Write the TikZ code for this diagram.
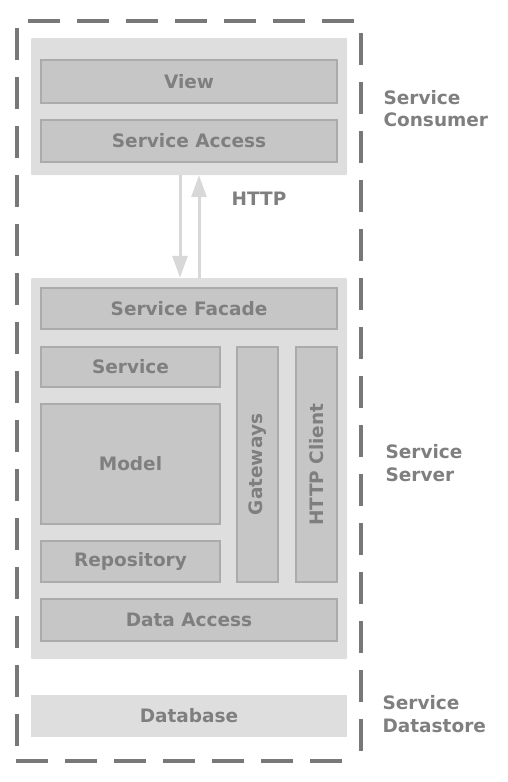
\documentclass[tikz,border=0pt]{standalone}
\usepackage{fontspec}
\setmainfont{DejaVu Sans}
\usetikzlibrary{arrows.meta}
\definecolor{txt}{HTML}{7F7F7F}
\definecolor{outerfill}{HTML}{DEDEDE}
\definecolor{innerfill}{HTML}{C6C6C6}
\definecolor{innerline}{HTML}{ABABAB}
\definecolor{dashc}{HTML}{787878}
\definecolor{arrowc}{HTML}{D8D8D8}
\tikzset{
  lbl/.style={font=\fontsize{18.5}{22}\selectfont\bfseries, text=txt},
  outerbox/.style={fill=outerfill, draw=none, rounded corners=1pt, inner sep=0pt},
  innerbox/.style={fill=innerfill, draw=innerline, line width=2pt, inner sep=0pt, lbl},
  dbbox/.style={fill=outerfill, draw=none, inner sep=0pt, lbl},
  border/.style={draw=dashc, line width=4pt, dash pattern=on 32pt off 17pt},
  conn/.style={draw=arrowc, line width=3pt, -{Triangle[width=15pt,length=22pt]}},
  sidelbl/.style={lbl, align=left, anchor=west, font=\fontsize{18.5}{22.5}\selectfont\bfseries}
}
\begin{document}
\begin{tikzpicture}[x=1pt,y=-1pt]
\useasboundingbox (0,0) rectangle (508,782);
% dashed boundary
\coordinate (t1) at (28,21); \coordinate (t2) at (361,21);
\coordinate (r1) at (361,33); \coordinate (r2) at (361,760);
\coordinate (b1) at (16,761); \coordinate (b2) at (350,761);
\coordinate (l1) at (17,28); \coordinate (l2) at (17,760);
\draw[border] (t1) -- (t2);
\draw[border] (r1) -- (r2);
\draw[border] (b1) -- (b2);
\draw[border] (l1) -- (l2);
% consumer
\node[outerbox, minimum width=316pt, minimum height=137pt] (consumer) at (189,106.5) {};
\node[innerbox, minimum width=296pt, minimum height=43pt] (view) at (189,81.5) {View};
\node[innerbox, minimum width=296pt, minimum height=42pt] (access) at (189,141) {Service Access};
% server
\node[outerbox, minimum width=316pt, minimum height=381pt] (server) at (189,468.5) {};
\node[innerbox, minimum width=296pt, minimum height=41pt] (facade) at (189,308.5) {Service Facade};
\node[innerbox, minimum width=179pt, minimum height=40pt] (service) at (130.5,367) {Service};
\node[innerbox, minimum width=179pt, minimum height=120pt] (model) at (130.5,464) {Model};
\node[innerbox, minimum width=179pt, minimum height=41pt] (repo) at (130.5,561.5) {Repository};
\node[innerbox, minimum width=41pt, minimum height=235pt] (gw) at (257.5,464.5) {};
\node[lbl, rotate=90] (gwt) at (gw.center) {Gateways};
\node[innerbox, minimum width=41pt, minimum height=235pt] (hc) at (316.5,464.5) {};
\node[lbl, rotate=90] (hct) at (hc.center) {HTTP Client};
\node[innerbox, minimum width=296pt, minimum height=42pt] (data) at (189,620) {Data Access};
% database
\node[dbbox, minimum width=316pt, minimum height=42pt] (db) at (189,716) {Database};
% arrows
\draw[conn] ([xshift=-9pt]consumer.south) -- ([xshift=-9pt]server.north);
\draw[conn] ([xshift=10pt]server.north) -- ([xshift=10pt]consumer.south);
\node[lbl] (http) at (259,199) {HTTP};
% side labels
\node[sidelbl] (lc) at (380,108.5) {Service\\Consumer};
\node[sidelbl] (ls) at (382,463) {Service\\Server};
\node[sidelbl] (ld) at (379,714) {Service\\Datastore};
\end{tikzpicture}
\end{document}
